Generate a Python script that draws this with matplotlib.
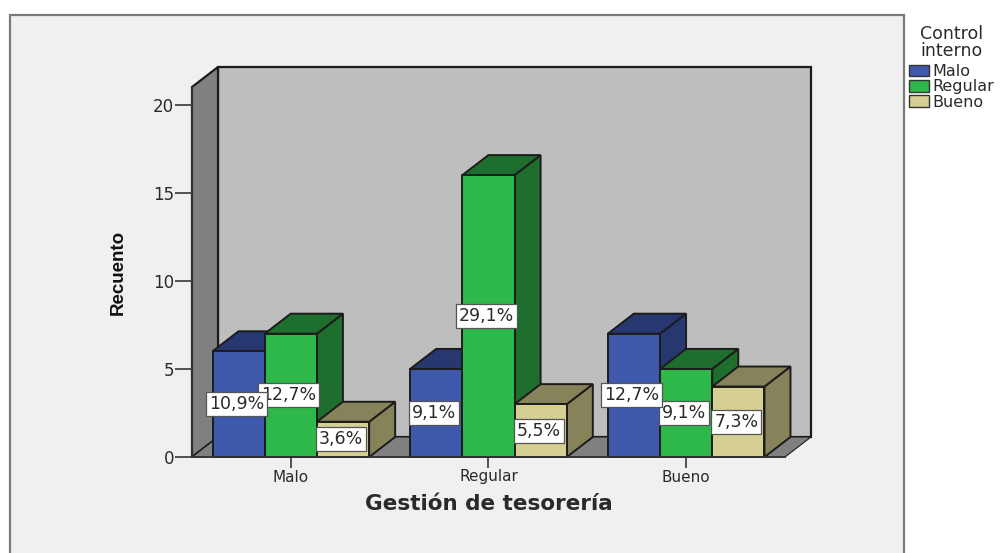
import matplotlib
matplotlib.use('Agg')
import matplotlib.pyplot as plt
from matplotlib.patches import Polygon, Rectangle, Patch

categories = ['Malo', 'Regular', 'Bueno']
series_names = ['Malo', 'Regular', 'Bueno']
malo_counts = [6, 5, 7]
regular_counts = [7, 16, 5]
bueno_counts = [2, 3, 4]
malo_labels = ['10,9%', '9,1%', '12,7%']
regular_labels = ['12,7%', '29,1%', '9,1%']
bueno_labels = ['3,6%', '5,5%', '7,3%']
y_ticks = [0, 5, 10, 15, 20]

front_colors = ['#3e58ac', '#2eb84a', '#d6cf93']
top_colors = ['#26386f', '#1e6e2d', '#868259']
side_colors = ['#26386f', '#1e6e2d', '#868259']
edge = '#1c1c1c'
text_color = '#2a2a2a'

W, H = 1003, 553
fig = plt.figure(figsize=(W / 100, H / 100), dpi=100, facecolor='white')

# grey chart panel, runs off the bottom of the figure
fig.add_artist(Rectangle((10 / W, -0.05), 894 / W, 1.05 - 15 / H, transform=fig.transFigure,
                         facecolor='#f0f0f0', edgecolor='#7a7a7a', linewidth=1.6, zorder=-1))

ax = fig.add_axes([192 / W, (H - 457) / H, 593 / W, 370 / H])
ax.set_xlim(-0.5, 2.5)
ax.set_ylim(0, 21)
ax.patch.set_alpha(0)

# depth of the fake 3D box, in data units
dx = 26 / 593 * 3
dy = 20 / 370 * 21
x0, x1 = -0.5, 2.5
ytop = 21


def poly(points, color, z, lw=1.4):
    ax.add_patch(Polygon(points, closed=True, facecolor=color, edgecolor=edge,
                         linewidth=lw, zorder=z, clip_on=False, joinstyle='miter'))


# walls and floor
poly([(x0 + dx, dy), (x1 + dx, dy), (x1 + dx, ytop + dy), (x0 + dx, ytop + dy)], '#bebebe', 1, lw=1.6)
poly([(x0, 0), (x0 + dx, dy), (x0 + dx, ytop + dy), (x0, ytop)], '#808080', 1, lw=1.6)
poly([(x0, 0), (x1, 0), (x1 + dx, dy), (x0 + dx, dy)], '#808080', 1, lw=0.8)

bar_w = 52.3 / 198
z = 3
series = [malo_counts, regular_counts, bueno_counts]
labels = [malo_labels, regular_labels, bueno_labels]
for c in range(len(categories)):
    for s in range(3):
        v = series[s][c]
        left = c + (s - 1.5) * bar_w
        right = left + bar_w
        poly([(right, 0), (right + dx, dy), (right + dx, v + dy), (right, v)], side_colors[s], z)
        poly([(left, v), (right, v), (right + dx, v + dy), (left + dx, v + dy)], top_colors[s], z)
        poly([(left, 0), (right, 0), (right, v), (left, v)], front_colors[s], z)
        z += 1

# percentage boxes, first series on top
for c in range(len(categories)):
    for s in [2, 1, 0]:
        v = series[s][c]
        xc = c + (s - 1) * bar_w - 0.01
        ax.text(xc, v / 2, labels[s][c], ha='center', va='center', fontsize=12.5,
                family='DejaVu Sans', color=text_color, zorder=50 + (2 - s),
                bbox=dict(boxstyle='square,pad=0.17', facecolor='white', edgecolor='#555555', linewidth=0.9))

ax.set_xticks(range(len(categories)))
ax.set_xticklabels(categories)
ax.set_yticks(y_ticks)
ax.tick_params(axis='x', length=8, width=1.3, color='#444444', labelsize=11,
               labelcolor=text_color, pad=1)
ax.tick_params(axis='y', length=12, width=1.3, color='#444444', labelsize=12,
               labelcolor=text_color, pad=1)
for side in ['top', 'right']:
    ax.spines[side].set_visible(False)
for side in ['left', 'bottom']:
    ax.spines[side].set_color('#333333')
    ax.spines[side].set_linewidth(1.3)
    ax.spines[side].set_zorder(60)

ax.set_xlabel('Gestión de tesorería', fontsize=15.5, fontweight='bold', color=text_color, labelpad=7)
ax.set_ylabel('Recuento', fontsize=13.5, fontweight='bold', color='#111111', labelpad=19,
              family='Liberation Sans')

handles = [Patch(facecolor=front_colors[i], edgecolor='#333333', linewidth=1, label=series_names[i])
           for i in range(3)]
leg = fig.legend(handles=handles, title='Control\ninterno', loc='upper left',
                 bbox_to_anchor=(907 / W, 1 - 23 / H), frameon=False, fontsize=11.5,
                 title_fontsize=12.5, labelspacing=0.02, handlelength=1.3, handleheight=0.75,
                 handletextpad=0.2, borderpad=0.1, borderaxespad=0, labelcolor=text_color,
                 alignment='center')
leg.get_title().set_color(text_color)
leg.get_title().set_multialignment('center')
leg.get_title().set_linespacing(0.95)
leg._legend_box.sep = 3

fig.savefig('out.png', dpi=100)
plt.close(fig)
